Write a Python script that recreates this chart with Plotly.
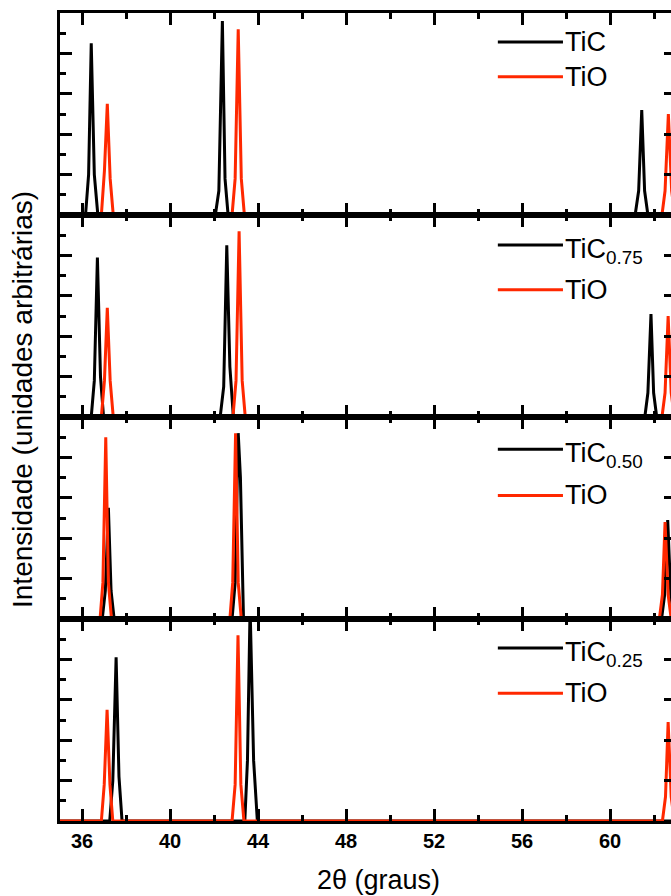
import plotly.graph_objects as go
from plotly.subplots import make_subplots

# ---------------- data ----------------
# Panel 1: TiC
tic_x = [35.0, 36.16, 36.30, 36.42, 36.56, 36.72, 42.06, 42.22, 42.38, 42.50, 42.64,
         61.14, 61.30, 61.44, 61.57, 61.72, 63.0]
tic_y = [0, 0, 20, 85, 20, 0, 0, 12, 96, 18, 0, 0, 12, 52, 12, 0, 0]
# Panel 2: TiC0.75
tic075_x = [35.0, 36.42, 36.56, 36.70, 36.84, 36.98, 42.28, 42.44, 42.58, 42.72, 42.88,
            61.58, 61.72, 61.86, 61.98, 62.12, 63.0]
tic075_y = [0, 0, 18, 79, 20, 0, 0, 15, 85, 25, 0, 0, 12, 51, 12, 0, 0]
# Panel 3: TiC0.50
tic050_x = [35.0, 36.92, 37.06, 37.20, 37.32, 37.46, 42.82, 42.96, 43.10, 43.20, 43.34,
            62.34, 62.48, 62.62, 62.76, 62.90, 63.0]
tic050_y = [0, 0, 14, 55, 14, 0, 0, 18, 92, 70, 0, 0, 12, 49, 12, 0, 0]
# Panel 4: TiC0.25
tic025_x = [35.0, 37.26, 37.40, 37.55, 37.68, 37.82, 43.40, 43.52, 43.64, 43.80, 43.97, 63.0]
tic025_y = [0, 0, 20, 81, 22, 0, 0, 30, 106, 30, 0, 0]

# TiO reference pattern (read per panel)
tio1_x = [35.0, 36.88, 37.02, 37.15, 37.28, 37.42, 42.82, 42.96, 43.10, 43.24, 43.38,
          62.36, 62.50, 62.65, 62.80, 62.94, 63.0]
tio1_y = [0, 0, 22, 55, 18, 0, 0, 18, 92, 18, 0, 0, 12, 50, 12, 0, 0]
tio2_x = [35.0, 36.88, 37.02, 37.15, 37.28, 37.42, 42.86, 43.00, 43.14, 43.28, 43.42,
          62.36, 62.50, 62.64, 62.78, 62.92, 63.0]
tio2_y = [0, 0, 18, 54, 18, 0, 0, 18, 92, 18, 0, 0, 12, 50, 12, 0, 0]
tio3_x = [35.0, 36.82, 36.95, 37.08, 37.20, 37.34, 42.72, 42.85, 42.98, 43.10, 43.24,
          62.24, 62.38, 62.50, 62.64, 62.78, 63.0]
tio3_y = [0, 0, 18, 90, 18, 0, 0, 18, 92, 18, 0, 0, 12, 48, 12, 0, 0]
tio4_x = [35.0, 36.88, 37.01, 37.14, 37.27, 37.40, 42.82, 42.96, 43.09, 43.22, 43.36,
          62.38, 62.52, 62.64, 62.78, 62.92, 63.0]
tio4_y = [0, 0, 18, 55, 18, 0, 0, 18, 92, 18, 0, 0, 12, 49, 12, 0, 0]

tic_labels = ["TiC", "TiC<sub>0.75</sub>", "TiC<sub>0.50</sub>", "TiC<sub>0.25</sub>"]
tio_label = "TiO"
x_ticks = [36, 40, 44, 48, 52, 56, 60]

black_series = [(tic_x, tic_y), (tic075_x, tic075_y), (tic050_x, tic050_y), (tic025_x, tic025_y)]
red_series = [(tio1_x, tio1_y), (tio2_x, tio2_y), (tio3_x, tio3_y), (tio4_x, tio4_y)]

# ---------------- styles ----------------
BLACK = "#000000"
RED = "rgb(255,40,0)"
FONT = "Liberation Sans, Arial, sans-serif"

fig = make_subplots(rows=4, cols=1, shared_xaxes=True, vertical_spacing=0)

for i in range(4):
    r = i + 1
    bx, by = black_series[i]
    rx, ry = red_series[i]
    fig.add_trace(go.Scatter(x=bx, y=by, mode="lines", line=dict(color=BLACK, width=3),
                             showlegend=False, hoverinfo="skip"), row=r, col=1)
    fig.add_trace(go.Scatter(x=rx, y=ry, mode="lines", line=dict(color=RED, width=3),
                             showlegend=False, hoverinfo="skip"), row=r, col=1)

common = dict(showline=True, linecolor=BLACK, linewidth=3,
              ticks="inside", tickcolor=BLACK, tickwidth=2.5, ticklen=12,
              showgrid=False, zeroline=False)

for i in range(4):
    r = i + 1
    fig.update_xaxes(range=[35, 62.77], tickvals=x_ticks, mirror="ticks",
                     minor=dict(dtick=2, tick0=36, ticks="inside", ticklen=6,
                                tickwidth=2.5, tickcolor=BLACK, showgrid=False),
                     showticklabels=(r == 4),
                     tickfont=dict(family=FONT, size=20, color=BLACK, weight="bold"),
                     row=r, col=1, **common)
    fig.update_yaxes(range=[0, 100], dtick=20, tick0=0, showticklabels=False, mirror=False,
                     minor=dict(dtick=10, tick0=0, ticks="inside", ticklen=6,
                                tickwidth=2.5, tickcolor=BLACK, showgrid=False),
                     row=r, col=1, **common)

# right-hand tick marks (the right frame line lies just outside the picture)
for i in range(4):
    n = 5 + i
    base = "y" if i == 0 else f"y{i+1}"
    xa = "x" if i == 0 else f"x{i+1}"
    dom = fig.layout[("yaxis" if i == 0 else f"yaxis{i+1}")].domain
    fig.update_layout(**{f"yaxis{n}": dict(
        overlaying=base, anchor=xa, side="right", range=[0, 100], dtick=20, tick0=0,
        showticklabels=False, showline=False, showgrid=False, zeroline=False,
        ticks="inside", ticklen=7, tickwidth=2.5, tickcolor=BLACK)})
    fig.add_trace(go.Scatter(x=[None], y=[None], xaxis=xa, yaxis=f"y{n}",
                             showlegend=False, hoverinfo="skip"))

# legends inside each panel
leg_y_black = [0.857, 0.852, 0.84, 0.856]
leg_y_red = [0.685, 0.63, 0.612, 0.632]
for i in range(4):
    yref = "y domain" if i == 0 else f"y{i+1} domain"
    xref = "x" if i == 0 else f"x{i+1}"
    for lab, yy, col in [(tic_labels[i], leg_y_black[i], BLACK), (tio_label, leg_y_red[i], RED)]:
        fig.add_shape(type="line", xref=xref, yref=yref, x0=54.9, x1=57.86, y0=yy, y1=yy,
                      line=dict(color=col, width=3))
        plain = (i == 0 or col == RED)
        fig.add_annotation(xref=xref, yref=yref, x=57.86, y=yy, text=lab, showarrow=False,
                           xanchor="left", yanchor="middle" if plain else "top",
                           yshift=0 if plain else 13,
                           font=dict(family=FONT, size=27, color=BLACK))

# axis titles
fig.add_annotation(xref="paper", yref="paper", x=(378 - 60) / 611, y=-(880 - 821) / 808,
                   text="2\u03b8 (graus)", showarrow=False, xanchor="center", yanchor="middle",
                   font=dict(family=FONT, size=27, color=BLACK))
fig.add_annotation(xref="paper", yref="paper", x=-(60 - 22) / 611, y=(821 - 400) / 808,
                   text="Intensidade (unidades arbitr\u00e1rias)", showarrow=False, textangle=-90,
                   xanchor="center", yanchor="middle",
                   font=dict(family=FONT, size=28, color=BLACK))

fig.update_layout(width=671, height=896, margin=dict(l=60, r=0, t=13, b=75),
                  paper_bgcolor="white", plot_bgcolor="white", showlegend=False)

fig.write_html("out.html")
